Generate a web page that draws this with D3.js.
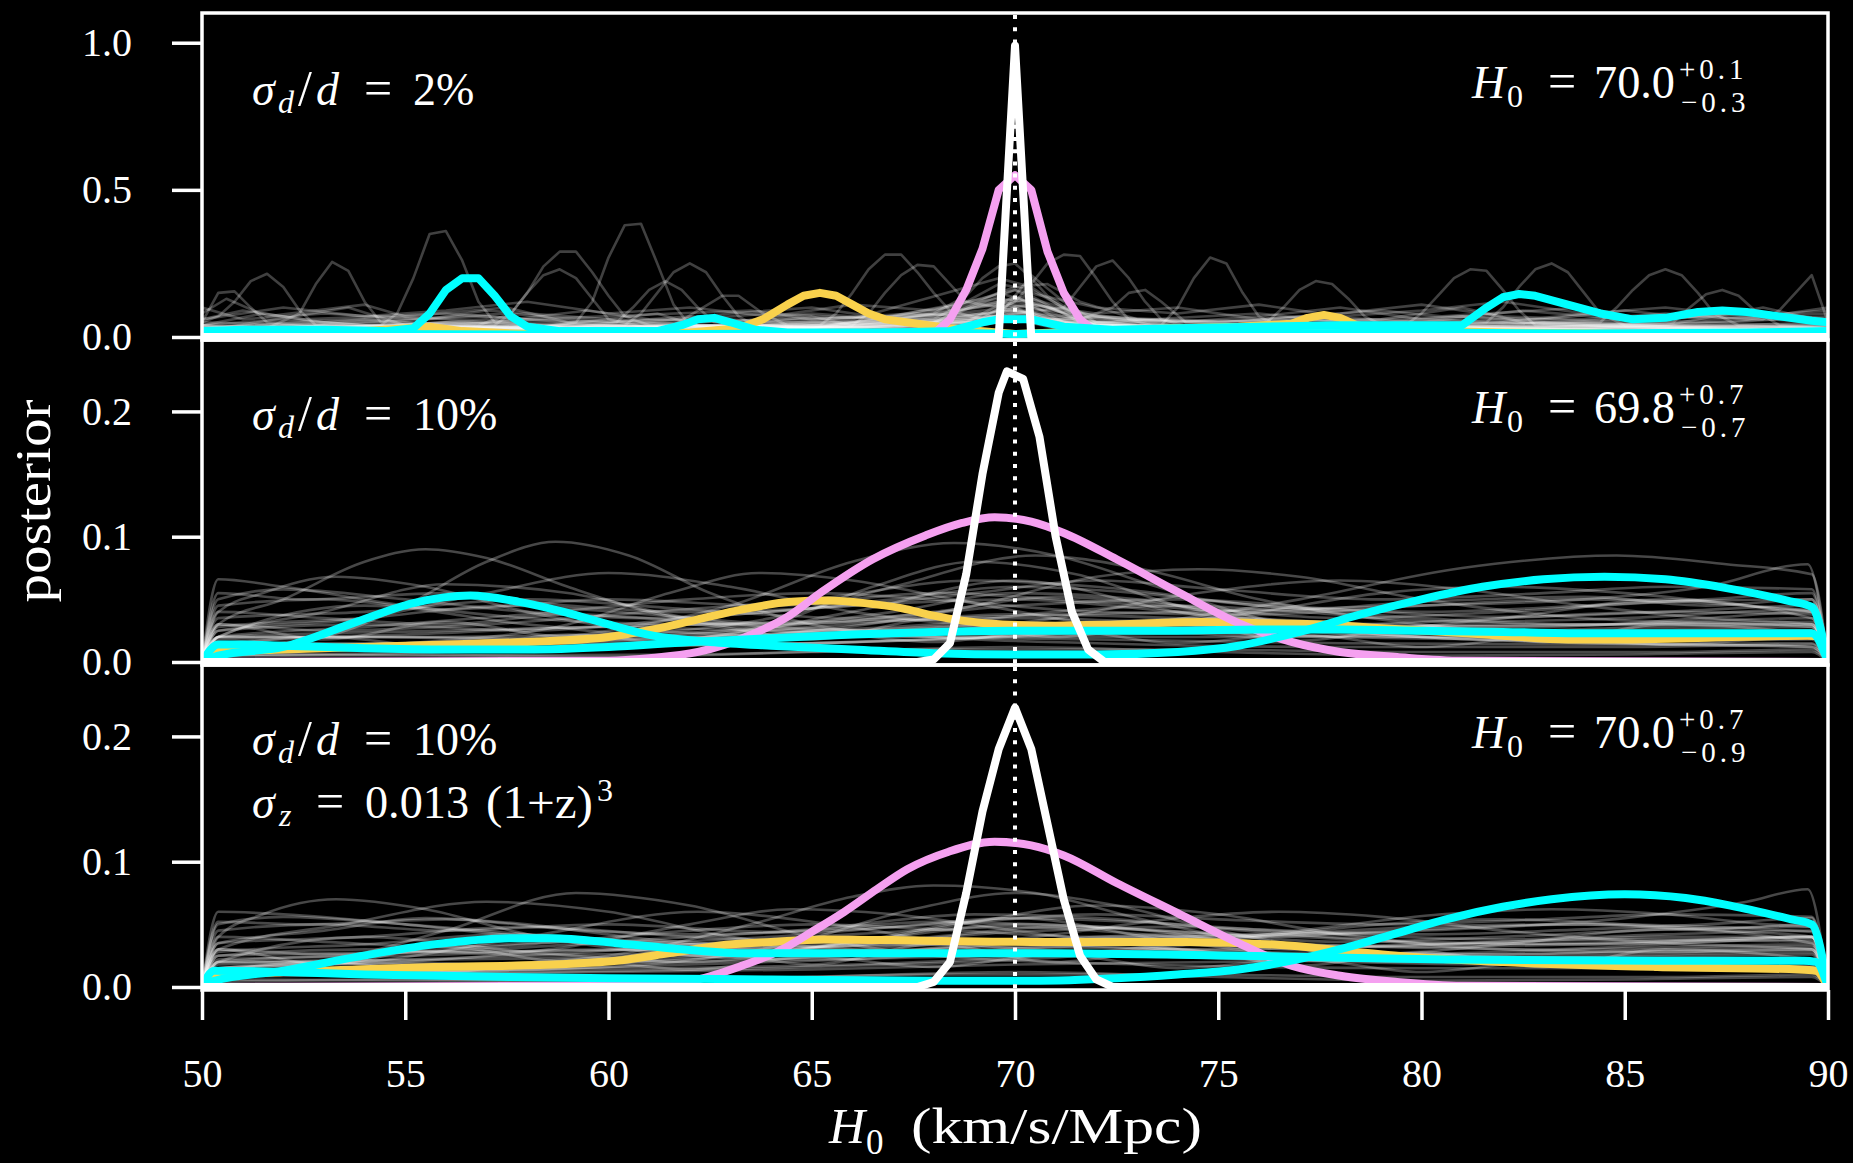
<!DOCTYPE html>
<html><head><meta charset="utf-8">
<script src="https://cdn.jsdelivr.net/npm/d3@7"></script>
<style>html,body{margin:0;padding:0;background:#000;} svg{display:block} text{font-family:"Liberation Serif","DejaVu Serif",serif;}</style>
</head><body>
<svg id="chart" width="1853" height="1163"></svg>
<script>
// ---------------- DATA ----------------
const xTicks = [50, 55, 60, 65, 70, 75, 80, 85, 90];
const yTicksP1 = [0.0, 0.5, 1.0];
const yTicksP2 = [0.0, 0.1, 0.2];
const yTicksP3 = [0.0, 0.1, 0.2];
const trueH0 = 70;
const sigmaDLabels = ["2%", "10%", "10%"];
const h0Values = ["70.0", "69.8", "70.0"];
const h0Plus = ["+0.1", "+0.7", "+0.7"];
const h0Minus = ["\u22120.3", "\u22120.7", "\u22120.9"];

// Panel 1 (sigma_d/d = 2%) : [H0, posterior] knots
const white1 = [[50,0],[69.6,0],[70.0,0.99],[70.4,0],[90,0]];
const pink1 = [[50,0],[67.6,0],[68.0,0.01],[68.4,0.06],[68.8,0.16],[69.2,0.3],[69.6,0.5],[70.0,0.55],[70.4,0.5],[70.8,0.29],[71.2,0.15],[71.6,0.06],[72.0,0.015],[72.4,0],[90,0]];
const yellow1 = [[50,0.005],[52,0.01],[54,0.02],[55.6,0.035],[56.4,0.02],[58,0.01],[60,0.01],[62,0.015],[63.2,0.03],[63.8,0.06],[64.4,0.11],[64.8,0.14],[65.2,0.15],[65.6,0.14],[66.0,0.11],[66.4,0.08],[66.8,0.06],[67.6,0.045],[68.4,0.03],[69.2,0.02],[70,0.01],[71,0.015],[72,0.02],[74,0.03],[75.5,0.035],[76.8,0.045],[77.2,0.065],[77.6,0.075],[78.0,0.065],[78.4,0.04],[79,0.025],[82,0.015],[86,0.01],[90,0.005]];
const cyanA1 = [[50,0.02],[51,0.025],[53,0.025],[54.5,0.02],[55.2,0.03],[55.6,0.08],[56.0,0.16],[56.4,0.2],[56.8,0.2],[57.2,0.14],[57.6,0.07],[58.0,0.035],[58.8,0.02],[60,0.02],[61.2,0.02],[61.8,0.04],[62.2,0.06],[62.6,0.065],[63.0,0.05],[63.6,0.025],[64.4,0.015],[66,0.015],[68,0.015],[70,0.01],[72,0.015],[76,0.012],[80,0.015],[84,0.012],[88,0.015],[90,0.02]];
const cyanB1 = [[50,0.01],[54,0.01],[58,0.008],[62,0.01],[66,0.012],[68.4,0.02],[69.2,0.05],[69.6,0.06],[70.4,0.06],[71.2,0.035],[72.4,0.025],[74,0.03],[76,0.035],[78,0.04],[80,0.04],[81.0,0.04],[81.6,0.1],[82.0,0.135],[82.4,0.146],[82.8,0.14],[83.6,0.11],[84.4,0.08],[85.2,0.06],[86.0,0.065],[86.8,0.085],[87.4,0.09],[88.0,0.085],[88.8,0.07],[89.6,0.055],[90,0.05]];
const gray1 = [
 [[50,0.02],[52,0.04],[53.6,0.03],[54.4,0.04],[54.8,0.08],[55.2,0.2],[55.6,0.35],[56,0.36],[56.4,0.26],[56.8,0.12],[57.2,0.05],[59,0.03],[62,0.04],[66,0.03],[69.2,0.06],[70,0.1],[70.8,0.05],[74,0.03],[80,0.02],[86,0.03],[90,0.02]],
 [[50,0.03],[53,0.02],[56,0.04],[58,0.03],[59.2,0.05],[59.6,0.12],[60.0,0.27],[60.4,0.38],[60.8,0.385],[61.2,0.25],[61.6,0.11],[62.0,0.04],[65,0.03],[68,0.05],[70,0.08],[72,0.04],[77,0.03],[83,0.05],[90,0.03]],
 [[50,0.04],[51.6,0.03],[52.4,0.08],[52.8,0.18],[53.2,0.255],[53.6,0.225],[54.0,0.12],[54.4,0.05],[56,0.03],[60,0.02],[64,0.03],[68.8,0.05],[70,0.14],[71.2,0.05],[75,0.02],[80,0.03],[85,0.02],[90,0.04]],
 [[50,0.05],[50.4,0.07],[50.8,0.12],[51.2,0.19],[51.6,0.215],[52.0,0.17],[52.4,0.09],[52.8,0.04],[55,0.03],[58,0.04],[62,0.02],[66,0.04],[70,0.07],[74,0.03],[79,0.04],[84,0.02],[90,0.03]],
 [[50,0.05],[50.4,0.15],[50.8,0.155],[51.2,0.1],[51.6,0.05],[54,0.03],[57,0.06],[59,0.03],[63,0.04],[67,0.03],[69.6,0.09],[70.4,0.08],[73,0.03],[78,0.02],[82,0.05],[86,0.03],[90,0.02]],
 [[50,0.02],[54,0.03],[56.8,0.04],[57.6,0.08],[58.0,0.15],[58.4,0.24],[58.8,0.29],[59.2,0.29],[59.6,0.22],[60.0,0.14],[60.4,0.07],[61,0.04],[64,0.03],[69,0.07],[70,0.1],[71,0.06],[75,0.03],[80,0.02],[87,0.04],[90,0.03]],
 [[50,0.03],[53,0.05],[55,0.03],[57.2,0.04],[57.6,0.08],[58.0,0.15],[58.4,0.21],[58.8,0.23],[59.2,0.2],[59.6,0.13],[60.0,0.06],[61,0.03],[66,0.04],[69.6,0.11],[70.4,0.1],[72,0.04],[78,0.03],[84,0.03],[90,0.02]],
 [[50,0.02],[53,0.04],[57,0.02],[60.4,0.04],[60.8,0.08],[61.2,0.15],[61.6,0.22],[62.0,0.25],[62.4,0.22],[62.8,0.14],[63.2,0.07],[63.6,0.04],[67,0.05],[70,0.09],[73,0.04],[77,0.02],[83,0.04],[90,0.02]],
 [[50,0.04],[52,0.02],[56,0.05],[59,0.03],[60.2,0.05],[60.6,0.1],[61.0,0.16],[61.4,0.19],[61.8,0.16],[62.2,0.1],[62.6,0.05],[65,0.03],[69.6,0.13],[70.4,0.12],[72,0.04],[76,0.03],[81,0.02],[88,0.04],[90,0.03]],
 [[50,0.03],[54,0.02],[58,0.03],[62,0.04],[65.2,0.04],[65.6,0.08],[66.0,0.15],[66.4,0.23],[66.8,0.28],[67.2,0.28],[67.6,0.22],[68.0,0.15],[68.4,0.09],[69.2,0.06],[70,0.07],[71,0.04],[76,0.02],[82,0.03],[90,0.02]],
 [[50,0.02],[55,0.04],[60,0.03],[64,0.02],[66.0,0.04],[66.4,0.08],[66.8,0.15],[67.2,0.21],[67.6,0.245],[68.0,0.24],[68.4,0.18],[68.8,0.12],[69.6,0.1],[70.4,0.08],[71.2,0.04],[75,0.03],[80,0.04],[86,0.02],[90,0.03]],
 [[50,0.03],[55,0.04],[59,0.02],[61.6,0.04],[62.2,0.09],[62.8,0.14],[63.2,0.14],[63.8,0.08],[64.4,0.04],[68,0.05],[70,0.16],[71,0.09],[72,0.04],[79,0.03],[85,0.04],[90,0.02]],
 [[50,0.02],[55,0.03],[61,0.04],[66,0.03],[69,0.05],[70,0.12],[70.4,0.18],[70.8,0.25],[71.2,0.28],[71.6,0.275],[72.0,0.2],[72.4,0.12],[72.8,0.06],[73.6,0.03],[78,0.04],[84,0.02],[90,0.03]],
 [[50,0.03],[54,0.02],[59,0.04],[64,0.03],[68,0.04],[70,0.08],[71.2,0.1],[71.6,0.17],[72.0,0.24],[72.4,0.26],[72.8,0.2],[73.2,0.12],[73.6,0.06],[74.4,0.03],[80,0.02],[85,0.04],[90,0.02]],
 [[50,0.02],[56,0.03],[62,0.02],[67,0.04],[70,0.06],[72,0.03],[73.6,0.04],[74.0,0.1],[74.4,0.2],[74.8,0.27],[75.2,0.25],[75.6,0.15],[76.0,0.07],[76.6,0.03],[81,0.03],[86,0.02],[90,0.03]],
 [[50,0.03],[57,0.02],[63,0.03],[68,0.03],[70,0.07],[72,0.04],[75,0.03],[76.2,0.05],[76.6,0.1],[77.0,0.16],[77.4,0.19],[77.8,0.18],[78.2,0.13],[78.6,0.07],[79.2,0.03],[84,0.04],[90,0.02]],
 [[50,0.02],[55,0.05],[58,0.03],[64,0.02],[69,0.05],[70,0.09],[71.6,0.04],[76,0.03],[79.6,0.04],[80.0,0.08],[80.4,0.14],[80.8,0.2],[81.2,0.23],[81.6,0.225],[82.0,0.16],[82.4,0.09],[82.8,0.04],[86,0.03],[90,0.04]],
 [[50,0.03],[54,0.04],[60,0.02],[65,0.04],[70,0.06],[74,0.03],[78,0.04],[81.6,0.05],[82.0,0.1],[82.4,0.17],[82.8,0.23],[83.2,0.25],[83.6,0.22],[84.0,0.15],[84.4,0.08],[85.0,0.04],[88,0.03],[90,0.02]],
 [[50,0.02],[56,0.03],[61,0.05],[64,0.03],[69,0.04],[70,0.08],[72,0.03],[78,0.02],[82,0.04],[84.4,0.05],[84.8,0.1],[85.2,0.16],[85.6,0.21],[86.0,0.23],[86.4,0.21],[86.8,0.15],[87.2,0.08],[87.8,0.04],[90,0.05]],
 [[50,0.04],[53,0.03],[58,0.02],[63,0.04],[67,0.03],[70,0.06],[73,0.03],[79,0.04],[84,0.03],[87,0.05],[88.4,0.06],[88.8,0.09],[89.2,0.15],[89.6,0.21],[90,0.05]],
 [[50,0.04],[52,0.06],[54,0.04],[58,0.05],[62,0.03],[66,0.06],[69.6,0.2],[70.4,0.17],[71.6,0.06],[72.4,0.1],[72.8,0.15],[73.2,0.16],[73.6,0.12],[74.2,0.05],[78,0.03],[82,0.05],[86,0.03],[90,0.02]],
 [[50,0.03],[55,0.02],[60,0.04],[65,0.03],[69.6,0.12],[70.4,0.14],[71.6,0.05],[76,0.03],[80,0.02],[84,0.04],[86.2,0.05],[86.6,0.1],[87.0,0.145],[87.4,0.16],[87.8,0.14],[88.2,0.09],[88.8,0.04],[90,0.03]],
 [[50,0.02],[56,0.03],[62,0.03],[66,0.05],[68,0.08],[68.8,0.14],[69.2,0.2],[69.6,0.24],[70.0,0.25],[70.4,0.2],[70.8,0.14],[71.6,0.07],[74,0.04],[80,0.03],[90,0.02]],
 [[50,0.03],[54,0.05],[57,0.07],[60,0.04],[64,0.06],[67,0.07],[69.2,0.13],[70,0.17],[70.8,0.18],[71.6,0.12],[73,0.06],[77,0.05],[81,0.07],[85,0.05],[90,0.04]],
 [[50,0.06],[51,0.09],[52.5,0.06],[56,0.08],[58,0.06],[63.5,0.09],[65,0.06],[69.2,0.08],[70,0.05],[72,0.07],[75,0.05],[79,0.09],[80.5,0.07],[84,0.1],[85.5,0.06],[88,0.08],[90,0.05]],
 [[50,0.08],[50.6,0.13],[51.6,0.07],[54,0.11],[55,0.07],[57.5,0.1],[59,0.05],[62,0.06],[64,0.08],[68,0.05],[69.6,0.15],[70.8,0.1],[72,0.05],[76,0.08],[78,0.05],[83,0.06],[85,0.09],[87,0.06],[90,0.08]],
 [[50,0.01],[52,0.02],[55,0.01],[58,0.02],[62,0.01],[66,0.02],[69.2,0.04],[70,0.06],[71,0.03],[75,0.01],[80,0.02],[85,0.01],[90,0.02]],
 [[50,0.02],[53.6,0.1],[55,0.04],[58,0.03],[61.2,0.08],[62.4,0.03],[65,0.07],[66,0.04],[69.6,0.07],[70.4,0.21],[71.2,0.12],[72,0.05],[79,0.06],[81,0.1],[82.5,0.05],[86,0.04],[88.4,0.1],[90,0.05]],
 [[50,0.06],[52,0.1],[54,0.07],[56,0.09],[58,0.12],[60,0.08],[62,0.1],[64,0.07],[66,0.11],[68,0.09],[70,0.16],[72,0.1],[74,0.08],[76,0.11],[78,0.07],[80,0.09],[82,0.12],[84,0.08],[86,0.1],[88,0.07],[90,0.09]],
 [[50,0.04],[51.5,0.08],[53,0.05],[55,0.07],[57,0.05],[59.5,0.09],[61,0.06],[63,0.05],[65,0.08],[67,0.06],[69,0.1],[70.4,0.13],[72,0.07],[74,0.05],[76,0.07],[78,0.1],[80,0.06],[82,0.05],[84,0.08],[86,0.06],[88,0.09],[90,0.06]],
 [[50,0.03],[52,0.05],[54,0.06],[56,0.04],[58,0.06],[60,0.05],[62,0.07],[64,0.05],[66,0.05],[68,0.07],[69.6,0.12],[70.8,0.09],[73,0.06],[75,0.04],[77,0.06],[79,0.05],[81,0.07],[83,0.05],[85,0.06],[87,0.07],[90,0.05]],
 [[50,0.1],[51,0.06],[53,0.08],[55.5,0.06],[57,0.09],[59,0.07],[61,0.05],[63,0.08],[65,0.1],[67,0.06],[69.2,0.09],[70.4,0.11],[72,0.08],[74,0.1],[76,0.06],[78,0.08],[80,0.11],[82,0.07],[84,0.06],[86,0.08],[88,0.06],[90,0.1]],
 [[50,0.02],[53,0.03],[56,0.05],[59,0.04],[62,0.03],[65,0.05],[68,0.06],[69.6,0.18],[70.4,0.16],[71.6,0.07],[74,0.04],[77,0.05],[80,0.03],[83,0.05],[86,0.04],[90,0.03]],
 [[50,0.05],[52.5,0.04],[55,0.06],[57.5,0.08],[60,0.05],[62.5,0.04],[65,0.06],[67.5,0.08],[69.2,0.07],[70,0.12],[70.8,0.1],[72.5,0.06],[75,0.05],[77.5,0.07],[80,0.05],[82.5,0.09],[85,0.06],[87.5,0.05],[90,0.07]]
];

// Panel 2 (sigma_d/d = 10%)
const white2 = [[50,0],[67.6,0],[68.0,0.002],[68.4,0.015],[68.8,0.07],[69.2,0.15],[69.6,0.215],[69.8,0.232],[70.2,0.226],[70.6,0.18],[71.0,0.1],[71.4,0.04],[71.8,0.01],[72.2,0],[90,0]];
const pink2 = [[50,0],[60,0.001],[61,0.003],[62.2,0.008],[63.45,0.021],[64.4,0.036],[65.25,0.056],[66.5,0.082],[67.8,0.101],[68.7,0.111],[69.5,0.1155],[70.4,0.112],[71.2,0.103],[72.5,0.082],[74.0,0.056],[75.5,0.031],[76.8,0.016],[78,0.008],[79.4,0.004],[81,0.001],[90,0]];
const yellow2 = [[50,0],[50.4,0.008],[52,0.01],[54,0.012],[56,0.014],[58,0.016],[60,0.02],[61.1,0.026],[62.2,0.034],[63.3,0.042],[64.5,0.048],[65.4,0.049],[66.3,0.047],[67.2,0.043],[68.0,0.037],[68.7,0.033],[69.7,0.030],[71,0.029],[72.5,0.030],[74.6,0.032],[76,0.031],[77.6,0.030],[79,0.027],[80.6,0.024],[82,0.021],[83.6,0.018],[85,0.018],[86.6,0.019],[89.5,0.021],[89.8,0.02],[90,0]];
const cyanA2 = [[50,0],[50.4,0.005],[52,0.012],[53.8,0.032],[55.2,0.047],[56.6,0.053],[57.8,0.048],[58.9,0.040],[60,0.030],[61.1,0.021],[62.5,0.016],[64,0.013],[66,0.01],[68,0.007],[70,0.006],[72,0.006],[74,0.008],[75.5,0.013],[77,0.024],[78.5,0.038],[80,0.05],[81.5,0.06],[83,0.066],[84.5,0.068],[86,0.066],[87.5,0.059],[89,0.049],[89.6,0.044],[90,0]];
const cyanB2 = [[50,0],[50.4,0.014],[51,0.014],[52,0.013],[54,0.011],[56,0.010],[58,0.010],[60,0.012],[62,0.016],[64,0.019],[66,0.022],[68,0.024],[70,0.025],[72,0.025],[74,0.025],[76,0.026],[78,0.026],[80,0.025],[82,0.024],[84,0.023],[86,0.023],[88,0.023],[89.6,0.023],[90,0]];
const gray2 = [
 [[50,0],[50.4,0.03],[52,0.05],[54,0.08],[55.5,0.09],[57,0.083],[59,0.06],[61,0.04],[64,0.025],[68,0.02],[72,0.018],[78,0.015],[84,0.014],[89.6,0.015],[90,0]],
 [[50,0],[50.4,0.01],[53,0.02],[55,0.045],[57,0.08],[58.7,0.096],[60.5,0.085],[62.5,0.055],[65,0.03],[68,0.02],[72,0.015],[78,0.012],[85,0.012],[89.6,0.014],[90,0]],
 [[50,0],[50.4,0.01],[55,0.012],[60,0.025],[63,0.045],[66,0.08],[68.5,0.095],[71,0.085],[73.5,0.06],[76,0.035],[80,0.02],[85,0.015],[89.6,0.012],[90,0]],
 [[50,0],[50.4,0.02],[55,0.02],[60,0.018],[65,0.025],[69,0.045],[72,0.068],[74.5,0.074],[77,0.068],[80,0.05],[84,0.035],[89.6,0.028],[90,0]],
 [[50,0],[50.4,0.015],[56,0.015],[62,0.014],[68,0.018],[73,0.03],[77,0.05],[81,0.075],[84.8,0.085],[87.5,0.078],[89.6,0.07],[90,0]],
 [[50,0],[50.4,0.02],[56,0.025],[62,0.03],[68,0.035],[74,0.04],[80,0.045],[84,0.05],[87,0.06],[89.5,0.078],[90,0]],
 [[50,0],[50.4,0.025],[54,0.035],[57,0.055],[60,0.071],[63,0.06],[66,0.04],[70,0.028],[76,0.025],[82,0.03],[89.6,0.03],[90,0]],
 [[50,0],[50.4,0.04],[51.5,0.055],[53.3,0.068],[55.5,0.06],[58,0.04],[61,0.025],[66,0.02],[72,0.022],[80,0.025],[89.6,0.02],[90,0]],
 [[50,0],[50.4,0.066],[52,0.06],[55,0.045],[58,0.035],[62,0.03],[66,0.032],[70,0.035],[75,0.03],[80,0.028],[85,0.03],[89.6,0.032],[90,0]],
 [[50,0],[50.4,0.01],[55,0.015],[59,0.03],[61.5,0.055],[63.7,0.071],[66,0.065],[68.5,0.05],[72,0.03],[77,0.02],[84,0.02],[89.6,0.025],[90,0]],
 [[50,0],[50.4,0.012],[58,0.015],[66,0.02],[71,0.035],[74.5,0.055],[78,0.065],[81,0.058],[84,0.045],[87,0.035],[89.6,0.03],[90,0]],
 [[50,0],[50.4,0.02],[55,0.02],[60,0.022],[64,0.035],[67,0.06],[70.5,0.085],[73,0.075],[76,0.05],[80,0.03],[85,0.02],[89.6,0.02],[90,0]],
 [[50,0],[50.4,0.005],[56,0.008],[61,0.015],[64,0.03],[66.5,0.06],[69,0.08],[71.5,0.07],[74,0.045],[78,0.025],[84,0.015],[89.6,0.012],[90,0]],
 [[50,0],[50.4,0.045],[53,0.05],[56,0.042],[60,0.05],[64,0.045],[68,0.055],[72,0.048],[76,0.04],[80,0.048],[84,0.052],[87,0.045],[89.6,0.05],[90,0]],
 [[50,0],[50.4,0.035],[54,0.04],[58,0.05],[62,0.042],[66,0.035],[70,0.045],[74,0.05],[78,0.042],[82,0.036],[86,0.04],[89.6,0.045],[90,0]],
 [[50,0],[50.4,0.025],[54,0.03],[58,0.025],[62,0.035],[66,0.045],[70,0.05],[74,0.04],[78,0.03],[82,0.035],[86,0.04],[89.6,0.038],[90,0]],
 [[50,0],[50.4,0.015],[54,0.02],[58,0.018],[62,0.022],[66,0.03],[70,0.038],[74,0.035],[78,0.028],[82,0.025],[86,0.028],[89.6,0.03],[90,0]],
 [[50,0],[50.4,0.01],[54,0.012],[58,0.015],[62,0.02],[66,0.025],[70,0.03],[74,0.025],[78,0.02],[82,0.018],[86,0.017],[89.6,0.018],[90,0]],
 [[50,0],[50.4,0.05],[52,0.058],[55,0.05],[58,0.04],[61,0.035],[64,0.04],[67,0.05],[70,0.06],[73,0.055],[76,0.045],[80,0.04],[84,0.045],[87,0.05],[89.6,0.055],[90,0]],
 [[50,0],[50.4,0.03],[53,0.025],[57,0.03],[61,0.04],[65,0.05],[69,0.065],[72,0.06],[76,0.045],[80,0.035],[84,0.03],[89.6,0.035],[90,0]],
 [[50,0],[50.4,0.02],[54,0.028],[58,0.038],[62,0.05],[65,0.055],[68,0.05],[72,0.04],[76,0.038],[80,0.045],[84,0.05],[89.6,0.04],[90,0]],
 [[50,0],[50.4,0.008],[55,0.01],[60,0.012],[65,0.015],[70,0.02],[75,0.02],[80,0.022],[85,0.025],[89.6,0.028],[90,0]],
 [[50,0],[50.4,0.04],[53,0.035],[56,0.03],[59,0.038],[63,0.03],[67,0.025],[71,0.03],[75,0.035],[79,0.03],[83,0.028],[87,0.035],[89.6,0.04],[90,0]],
 [[50,0],[50.4,0.055],[52.5,0.05],[56,0.055],[59,0.045],[62,0.04],[66,0.045],[69,0.055],[72,0.065],[75,0.058],[79,0.05],[83,0.055],[86,0.06],[89.6,0.058],[90,0]],
 [[50,0],[50.4,0.018],[55,0.022],[60,0.028],[64,0.025],[68,0.03],[71,0.04],[74,0.045],[77,0.04],[81,0.032],[85,0.035],[89.6,0.042],[90,0]],
 [[50,0],[50.4,0.028],[54,0.035],[57.5,0.045],[61,0.038],[64.5,0.03],[68,0.04],[71,0.052],[74,0.045],[78,0.035],[82,0.04],[86,0.048],[89.6,0.05],[90,0]],
 [[50,0],[50.4,0.012],[55,0.015],[60,0.02],[64,0.028],[67,0.04],[70,0.055],[73,0.05],[76,0.035],[80,0.025],[85,0.022],[89.6,0.02],[90,0]],
 [[50,0],[50.4,0.006],[56,0.005],[62,0.006],[68,0.01],[74,0.01],[80,0.008],[86,0.008],[89.6,0.01],[90,0]],
 [[50,0],[50.4,0.02],[53,0.04],[56,0.062],[59,0.055],[62,0.035],[66,0.025],[70,0.03],[75,0.028],[80,0.02],[85,0.022],[89.6,0.025],[90,0]],
 [[50,0],[50.4,0.01],[58,0.012],[65,0.015],[72,0.025],[76,0.04],[79,0.055],[82,0.06],[85,0.055],[88,0.045],[89.6,0.04],[90,0]],
 [[50,0],[50.4,0.012],[53,0.02],[56,0.012],[59,0.022],[62,0.014],[65,0.024],[68,0.016],[71,0.026],[74,0.015],[77,0.022],[80,0.012],[83,0.02],[86,0.014],[89.6,0.02],[90,0]],
 [[50,0],[50.4,0.03],[53,0.018],[56,0.032],[59,0.02],[62,0.03],[65,0.018],[68,0.034],[71,0.02],[74,0.03],[77,0.017],[80,0.028],[83,0.016],[86,0.03],[89.6,0.022],[90,0]],
 [[50,0],[50.4,0.004],[55,0.006],[60,0.004],[65,0.008],[70,0.012],[75,0.008],[80,0.005],[85,0.006],[89.6,0.008],[90,0]],
 [[50,0],[50.4,0.02],[54,0.045],[58,0.03],[62,0.02],[66,0.04],[70,0.065],[74,0.04],[78,0.025],[82,0.035],[86,0.05],[89.6,0.035],[90,0]]
];

// Panel 3 (sigma_d/d = 10%, sigma_z = 0.013 (1+z)^3)
const white3 = [[50,0],[67.6,0],[68.0,0.004],[68.4,0.02],[68.8,0.075],[69.2,0.14],[69.6,0.19],[70.0,0.223],[70.4,0.19],[70.8,0.13],[71.2,0.07],[71.6,0.025],[72.0,0.006],[72.4,0],[90,0]];
const pink3 = [[50,0],[60,0.001],[61.2,0.002],[62.2,0.006],[63.2,0.016],[64.27,0.03],[65.0,0.044],[65.8,0.06],[66.6,0.078],[67.35,0.094],[68.37,0.108],[69.5,0.116],[70.4,0.113],[71.2,0.105],[72.5,0.083],[74.0,0.059],[75.5,0.035],[76.8,0.017],[78,0.009],[79.4,0.004],[81,0.001],[90,0]];
const yellow3 = [[50,0],[50.3,0.009],[52,0.012],[53.8,0.014],[55.7,0.016],[57.6,0.017],[60.2,0.021],[61.5,0.027],[62.7,0.033],[64,0.036],[65.3,0.038],[67.8,0.037],[70.4,0.036],[74.2,0.036],[76.8,0.033],[78.1,0.029],[79.4,0.025],[82.0,0.02],[85.8,0.016],[89.3,0.014],[89.7,0.013],[90,0]];
const cyanA3 = [[50,0],[50.3,0.005],[52,0.013],[53.8,0.024],[55.7,0.034],[57.6,0.039],[58.6,0.039],[60.2,0.035],[61.5,0.031],[63.3,0.027],[66.6,0.027],[70.4,0.027],[75.5,0.025],[80.6,0.022],[85.8,0.021],[89.4,0.021],[89.7,0.02],[90,0]];
const cyanB3 = [[50,0],[50.3,0.013],[52,0.012],[54,0.01],[57.6,0.008],[60,0.007],[64,0.006],[68,0.005],[70.4,0.005],[72.5,0.007],[74,0.01],[75.5,0.014],[76.8,0.021],[78.1,0.031],[79.4,0.043],[80.6,0.054],[82,0.064],[83.2,0.07],[85.0,0.074],[86.5,0.071],[87.6,0.065],[89.1,0.054],[89.6,0.05],[90,0]];
const gray3 = [
 [[50,0],[50.4,0.04],[51.5,0.058],[53.3,0.07],[55.5,0.062],[58,0.042],[61,0.028],[65,0.022],[70,0.025],[76,0.025],[82,0.022],[89.6,0.02],[90,0]],
 [[50,0],[50.4,0.01],[53,0.02],[56,0.045],[59.2,0.075],[62,0.065],[65,0.04],[68,0.025],[73,0.018],[80,0.015],[86,0.015],[89.6,0.017],[90,0]],
 [[50,0],[50.4,0.012],[55,0.014],[60,0.025],[63.5,0.05],[66,0.072],[68,0.081],[70.5,0.075],[73,0.055],[76,0.035],[80,0.022],[86,0.016],[89.6,0.015],[90,0]],
 [[50,0],[50.4,0.015],[54,0.02],[58,0.04],[62.2,0.06],[65.5,0.05],[68.5,0.035],[72,0.028],[78,0.025],[84,0.027],[89.6,0.03],[90,0]],
 [[50,0],[50.4,0.02],[56,0.018],[62,0.02],[67,0.028],[71,0.042],[74,0.055],[76.5,0.06],[79,0.056],[82,0.045],[86,0.035],[89.6,0.03],[90,0]],
 [[50,0],[50.4,0.025],[56,0.028],[62,0.03],[68,0.035],[74,0.04],[80,0.045],[85,0.055],[88,0.068],[89.5,0.078],[90,0]],
 [[50,0],[50.4,0.012],[58,0.014],[66,0.018],[72,0.028],[77,0.045],[80.5,0.058],[83.2,0.062],[86,0.058],[88.5,0.05],[89.6,0.048],[90,0]],
 [[50,0],[50.4,0.06],[52,0.058],[55,0.05],[58,0.04],[62,0.034],[66,0.035],[70,0.038],[75,0.035],[80,0.032],[85,0.035],[89.6,0.04],[90,0]],
 [[50,0],[50.4,0.03],[53.5,0.05],[57,0.068],[60,0.06],[63,0.04],[67,0.028],[72,0.025],[78,0.022],[84,0.025],[89.6,0.028],[90,0]],
 [[50,0],[50.4,0.01],[56,0.012],[61,0.018],[64.5,0.035],[67.5,0.062],[70,0.075],[72.5,0.065],[75,0.045],[79,0.025],[85,0.016],[89.6,0.014],[90,0]],
 [[50,0],[50.4,0.02],[56,0.022],[62,0.025],[66,0.035],[69,0.052],[72,0.065],[75,0.058],[78,0.042],[82,0.03],[86,0.028],[89.6,0.03],[90,0]],
 [[50,0],[50.4,0.015],[55,0.02],[59,0.032],[62,0.05],[64.5,0.062],[67,0.058],[70,0.045],[74,0.03],[80,0.02],[86,0.02],[89.6,0.022],[90,0]],
 [[50,0],[50.4,0.045],[53,0.05],[56,0.045],[60,0.05],[64,0.044],[68,0.052],[72,0.048],[76,0.042],[80,0.048],[84,0.05],[87,0.046],[89.6,0.05],[90,0]],
 [[50,0],[50.4,0.035],[54,0.04],[58,0.048],[62,0.04],[66,0.036],[70,0.044],[74,0.048],[78,0.042],[82,0.038],[86,0.042],[89.6,0.045],[90,0]],
 [[50,0],[50.4,0.025],[54,0.03],[58,0.026],[62,0.034],[66,0.042],[70,0.048],[74,0.04],[78,0.032],[82,0.036],[86,0.04],[89.6,0.04],[90,0]],
 [[50,0],[50.4,0.015],[54,0.02],[58,0.018],[62,0.022],[66,0.03],[70,0.036],[74,0.034],[78,0.028],[82,0.026],[86,0.03],[89.6,0.032],[90,0]],
 [[50,0],[50.4,0.01],[54,0.012],[58,0.014],[62,0.018],[66,0.022],[70,0.028],[74,0.024],[78,0.02],[82,0.018],[86,0.018],[89.6,0.02],[90,0]],
 [[50,0],[50.4,0.05],[52,0.056],[55,0.05],[58,0.042],[61,0.036],[64,0.04],[67,0.048],[70,0.055],[73,0.052],[76,0.046],[80,0.042],[84,0.046],[87,0.05],[89.6,0.055],[90,0]],
 [[50,0],[50.4,0.03],[53,0.026],[57,0.03],[61,0.038],[65,0.046],[69,0.058],[72,0.055],[76,0.044],[80,0.036],[84,0.034],[89.6,0.038],[90,0]],
 [[50,0],[50.4,0.02],[54,0.026],[58,0.034],[62,0.045],[65,0.05],[68,0.046],[72,0.04],[76,0.04],[80,0.046],[84,0.05],[89.6,0.044],[90,0]],
 [[50,0],[50.4,0.008],[55,0.01],[60,0.012],[65,0.014],[70,0.018],[75,0.02],[80,0.022],[85,0.024],[89.6,0.026],[90,0]],
 [[50,0],[50.4,0.04],[53,0.036],[56,0.032],[59,0.036],[63,0.03],[67,0.027],[71,0.032],[75,0.036],[79,0.032],[83,0.03],[87,0.036],[89.6,0.04],[90,0]],
 [[50,0],[50.4,0.052],[52.5,0.05],[56,0.054],[59,0.046],[62,0.042],[66,0.046],[69,0.052],[72,0.058],[75,0.054],[79,0.05],[83,0.054],[86,0.058],[89.6,0.056],[90,0]],
 [[50,0],[50.4,0.018],[55,0.022],[60,0.026],[64,0.025],[68,0.03],[71,0.038],[74,0.042],[77,0.04],[81,0.034],[85,0.036],[89.6,0.04],[90,0]],
 [[50,0],[50.4,0.028],[54,0.034],[57.5,0.042],[61,0.036],[64.5,0.03],[68,0.04],[71,0.048],[74,0.044],[78,0.036],[82,0.04],[86,0.046],[89.6,0.048],[90,0]],
 [[50,0],[50.4,0.012],[55,0.015],[60,0.02],[64,0.028],[67,0.04],[70,0.05],[73,0.046],[76,0.034],[80,0.026],[85,0.022],[89.6,0.02],[90,0]],
 [[50,0],[50.4,0.006],[56,0.005],[62,0.006],[68,0.01],[74,0.01],[80,0.008],[86,0.008],[89.6,0.01],[90,0]],
 [[50,0],[50.4,0.035],[53,0.045],[55.5,0.055],[58,0.05],[61,0.038],[65,0.032],[69,0.035],[74,0.03],[79,0.026],[84,0.03],[89.6,0.034],[90,0]],
 [[50,0],[50.4,0.01],[58,0.012],[65,0.016],[72,0.026],[76,0.04],[79,0.05],[82,0.054],[85,0.05],[88,0.044],[89.6,0.04],[90,0]],
 [[50,0],[50.4,0.022],[55,0.025],[60,0.03],[65,0.028],[70,0.032],[75,0.03],[80,0.034],[85,0.038],[89.6,0.036],[90,0]],
 [[50,0],[50.4,0.012],[53,0.02],[56,0.012],[59,0.022],[62,0.014],[65,0.024],[68,0.016],[71,0.026],[74,0.015],[77,0.022],[80,0.012],[83,0.02],[86,0.014],[89.6,0.02],[90,0]],
 [[50,0],[50.4,0.03],[53,0.018],[56,0.032],[59,0.02],[62,0.03],[65,0.018],[68,0.034],[71,0.02],[74,0.03],[77,0.017],[80,0.028],[83,0.016],[86,0.03],[89.6,0.022],[90,0]],
 [[50,0],[50.4,0.004],[55,0.006],[60,0.004],[65,0.008],[70,0.012],[75,0.008],[80,0.005],[85,0.006],[89.6,0.008],[90,0]],
 [[50,0],[50.4,0.02],[54,0.04],[58,0.028],[62,0.02],[66,0.036],[70,0.055],[74,0.036],[78,0.024],[82,0.034],[86,0.046],[89.6,0.035],[90,0]]
];

// ---------------- DRAWING ----------------
const W = 1853, H = 1163;
const FONT = "Liberation Serif, DejaVu Serif, serif";
const COL = {cyan: "#00ffff", yellow: "#f9d14c", pink: "#f5a0f0", white: "#ffffff"};
const svg = d3.select("#chart");
svg.append("rect").attr("width", W).attr("height", H).attr("fill", "#000");

const x = d3.scaleLinear().domain([50, 90]).range([202, 1828]);

const panels = [
  {top: 13, bottom: 340, domain: [-0.0102, 1.101], ticks: yTicksP1, gray: gray1, yellow: yellow1, pink: pink1, cyan: [cyanA1, cyanB1], white: white1, curve: d3.curveLinear},
  {top: 340, bottom: 665, domain: [-0.0024, 0.2570], ticks: yTicksP2, gray: gray2, yellow: yellow2, pink: pink2, cyan: [cyanA2, cyanB2], white: white2, curve: d3.curveMonotoneX},
  {top: 665, bottom: 990, domain: [-0.0024, 0.2570], ticks: yTicksP3, gray: gray3, yellow: yellow3, pink: pink3, cyan: [cyanA3, cyanB3], white: white3, curve: d3.curveMonotoneX}
];

const defs = svg.append("defs");

panels.forEach((p, i) => {
  const y = d3.scaleLinear().domain(p.domain).range([p.bottom, p.top]);
  defs.append("clipPath").attr("id", "clip" + i)
    .append("rect").attr("x", x(50)).attr("y", p.top).attr("width", x(90) - x(50)).attr("height", p.bottom - p.top);
  const g = svg.append("g").attr("clip-path", `url(#clip${i})`);
  const mk = (curve) => d3.line().x(d => x(d[0])).y(d => y(d[1])).curve(curve);
  const draw = (data, color, w, op, curve) => g.append("path").datum(data).attr("d", mk(curve))
      .attr("fill", "none").attr("stroke", color).attr("stroke-width", w).attr("stroke-opacity", op)
      .attr("stroke-linejoin", "round").attr("stroke-linecap", "round");
  p.gray.forEach(d => draw(d, "#ffffff", 2.6, i === 0 ? 0.25 : 0.28, p.curve));
  draw(p.yellow, COL.yellow, 8, 1, p.curve);
  draw(p.pink, COL.pink, 8, 1, p.curve);
  p.cyan.forEach(d => draw(d, COL.cyan, 8, 1, p.curve));
  draw(p.white, COL.white, 8, 1, d3.curveLinear);

  // true H0 dotted line
  svg.append("line").attr("x1", x(trueH0)).attr("x2", x(trueH0)).attr("y1", p.top + 2).attr("y2", p.bottom)
    .attr("stroke", "#fff").attr("stroke-width", 4).attr("stroke-dasharray", "4,8.2");

  // frame
  svg.append("rect").attr("x", x(50)).attr("y", p.top).attr("width", x(90) - x(50)).attr("height", p.bottom - p.top)
    .attr("fill", "none").attr("stroke", "#fff").attr("stroke-width", 3.5);

  // y axis
  const ay = svg.append("g").attr("transform", `translate(${x(50)},0)`)
    .call(d3.axisLeft(y).tickValues(p.ticks).tickSize(30).tickPadding(40).tickFormat(d3.format(".1f")));
  ay.attr("font-family", FONT);
  ay.select(".domain").remove();
  ay.selectAll(".tick line").attr("stroke", "#fff").attr("stroke-width", 3.5);
  ay.selectAll(".tick text").attr("fill", "#fff").attr("font-family", FONT).style("font-family", FONT).style("font-size", "40px");
});

// x axis (bottom panel only)
const ax = svg.append("g").attr("transform", `translate(0,${panels[2].bottom})`)
  .call(d3.axisBottom(x).tickValues(xTicks).tickSize(30).tickPadding(39).tickFormat(d3.format("d")));
ax.attr("font-family", FONT);
ax.select(".domain").remove();
ax.selectAll(".tick line").attr("stroke", "#fff").attr("stroke-width", 3.5);
ax.selectAll(".tick text").attr("fill", "#fff").attr("font-family", FONT).style("font-family", FONT).style("font-size", "40px");

// ---------- text helpers ----------
function txt(xp, yp, s, opt = {}) {
  const t = svg.append("text").attr("x", xp).attr("y", yp).text(s)
    .attr("fill", "#fff").attr("font-family", FONT).style("font-family", FONT)
    .style("font-size", (opt.size || 46) + "px")
    .style("font-style", opt.italic ? "italic" : "normal")
    .attr("text-anchor", opt.anchor || "start");
  if (opt.len) t.attr("textLength", opt.len).attr("lengthAdjust", "spacingAndGlyphs");
  if (opt.ls) t.style("letter-spacing", opt.ls + "px");
  return t;
}
// one text element made of positioned pieces (math-like layout)
function mathText(pieces, baseY, size) {
  const t = svg.append("text").attr("y", baseY).attr("fill", "#fff")
    .attr("font-family", FONT).style("font-family", FONT).style("font-size", size + "px");
  pieces.forEach(pc => {
    const s = t.append("tspan").attr("x", pc.x).attr("y", baseY + (pc.dy || 0)).text(pc.s);
    if (pc.italic) s.style("font-style", "italic");
    if (pc.size) s.style("font-size", pc.size + "px");
  });
  return t;
}

// sigma_d/d annotation per panel
const baseOff = [105, 430, 755];
panels.forEach((p, i) => {
  const b = baseOff[i];
  mathText([
    {x: 252, s: "\u03c3", italic: true},
    {x: 278, s: "d", italic: true, size: 32, dy: 8},
    {x: 298, s: "/", size: 50},
    {x: 316, s: "d", italic: true},
    {x: 364, s: "=", size: 50}
  ], b, 46);
  txt(413, b, sigmaDLabels[i]);
});
// sigma_z line in panel 3
mathText([
  {x: 252, s: "\u03c3", italic: true},
  {x: 279, s: "z", italic: true, size: 32, dy: 8},
  {x: 316, s: "=", size: 50}
], 818, 46);
txt(365, 818, "0.013", {len: 104});
txt(486, 818, "(1+z)", {len: 107});
txt(597, 801, "3", {size: 32});

// H0 results
const h0Base = [98, 423, 748];
panels.forEach((p, i) => {
  const b = h0Base[i];
  mathText([
    {x: 1472, s: "H", italic: true},
    {x: 1507, s: "0", size: 32, dy: 9},
    {x: 1548, s: "=", size: 50}
  ], b, 46);
  txt(1675, b, h0Values[i], {anchor: "end", len: 81});
  // stacked superscript / subscript errors
  txt(1679, b - 19, h0Plus[i], {size: 29, ls: 4});
  txt(1681, b + 14, h0Minus[i], {size: 29, ls: 4});
});

// axis labels
mathText([
  {x: 829, s: "H", italic: true},
  {x: 866, s: "0", size: 35, dy: 11}
], 1143, 50);
txt(911, 1143, "(km/s/Mpc)", {size: 50, len: 291});
svg.append("text").attr("transform", "translate(50,501) rotate(-90)")
  .attr("text-anchor", "middle").attr("fill", "#fff").attr("font-family", FONT).style("font-family", FONT).style("font-size", "50px")
  .attr("textLength", 203).attr("lengthAdjust", "spacingAndGlyphs").text("posterior");
</script>
</body></html>
